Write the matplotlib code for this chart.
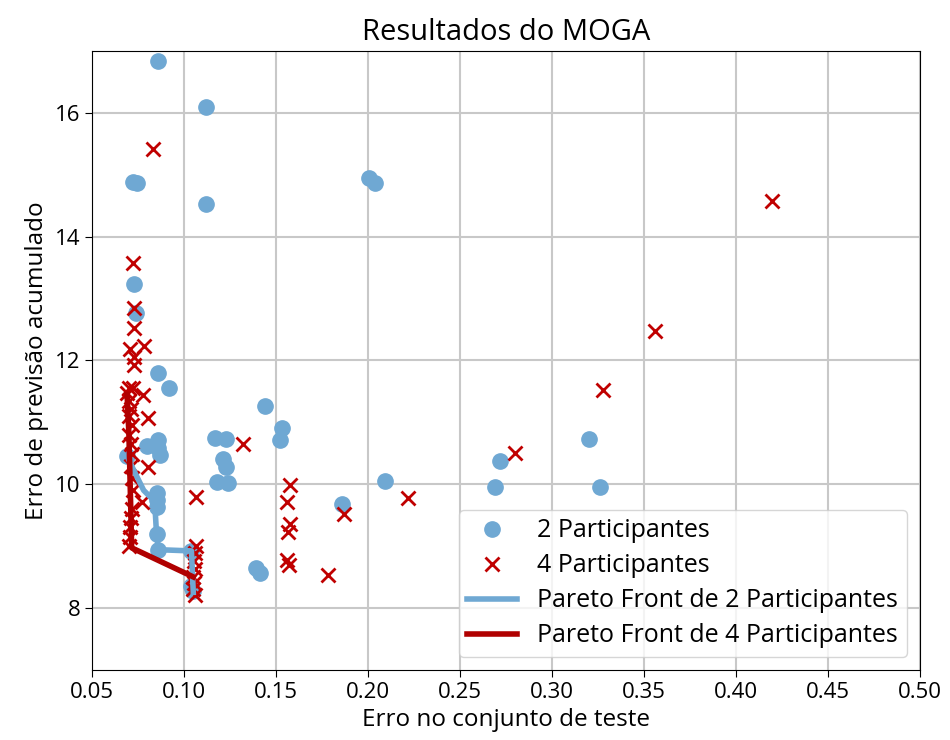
import numpy as np
import matplotlib
matplotlib.use("Agg")
import matplotlib.pyplot as plt

plt.rcParams['font.family'] = ['Open Sans', 'DejaVu Sans']

# 2 participantes (blue circles)
x_p2 = [0.086, 0.112, 0.0720, 0.0745, 0.112, 0.2005, 0.204, 0.073, 0.074,
        0.086, 0.092, 0.144, 0.153, 0.152, 0.117, 0.1226, 0.121, 0.1226,
        0.118, 0.124, 0.080, 0.086, 0.087, 0.086, 0.209, 0.186, 0.320,
        0.2717, 0.269, 0.326, 0.085, 0.085, 0.085, 0.085, 0.086, 0.139,
        0.1414, 0.104, 0.105, 0.069, 0.104]
y_p2 = [16.84, 16.10, 14.88, 14.87, 14.53, 14.95, 14.87, 13.24, 12.76,
        11.80, 11.55, 11.26, 10.90, 10.72, 10.74, 10.73, 10.40, 10.27,
        10.03, 10.01, 10.62, 10.72, 10.47, 10.58, 10.05, 9.68, 10.73,
        10.37, 9.95, 9.95, 9.86, 9.74, 9.63, 9.20, 8.94, 8.65,
        8.57, 8.35, 8.28, 10.45, 8.92]

# 4 participantes (red crosses)
x_p4 = [0.083, 0.072, 0.0726, 0.0728, 0.0704, 0.078, 0.0725, 0.072,
        0.069, 0.0774, 0.070, 0.071, 0.0806, 0.070, 0.0715, 0.070, 0.0806,
        0.0712, 0.0715, 0.077, 0.0712, 0.0718, 0.072, 0.0715, 0.0712,
        0.0706, 0.0708, 0.0702, 0.0702, 0.0725,
        0.1065, 0.1065, 0.106, 0.1055, 0.106, 0.105, 0.1055, 0.105, 0.106,
        0.132, 0.1575, 0.156, 0.1575, 0.1565, 0.156, 0.157, 0.1785, 0.187,
        0.222, 0.280, 0.328, 0.356, 0.420]
y_p4 = [15.42, 13.58, 12.84, 12.53, 12.18, 12.24, 11.93, 11.56,
        11.48, 11.44, 11.35, 11.22, 11.07, 11.10, 10.95, 10.80, 10.27,
        10.65, 10.48, 9.71, 10.30, 10.10, 9.90, 9.60, 9.45,
        9.30, 9.15, 9.00, 11.55, 12.05,
        9.79, 9.00, 8.88, 8.75, 8.62, 8.50, 8.40, 8.30, 8.20,
        10.65, 9.98, 9.71, 9.35, 9.22, 8.77, 8.69, 8.53, 9.52,
        9.77, 10.50, 11.52, 12.48, 14.58]

# pareto fronts
front2_x = [0.069, 0.073, 0.078, 0.084, 0.085, 0.086, 0.104, 0.105]
front2_y = [10.45, 10.20, 9.90, 9.72, 9.20, 8.94, 8.92, 8.25]
front4_x = [0.069, 0.070, 0.0705, 0.071, 0.0715, 0.105]
front4_y = [11.45, 10.80, 10.20, 9.60, 8.97, 8.50]

blue = '#6fa8d3'
red = '#c00000'

fig = plt.figure(figsize=(9.5, 7.4), dpi=100)
ax = fig.add_axes([0.097, 0.095, 0.871, 0.836])

ax.plot(x_p2, y_p2, 'o', color=blue, markersize=11, label='2 Participantes', zorder=3)
ax.plot(x_p4, y_p4, 'x', color=red, markersize=10, markeredgewidth=2, label='4 Participantes', zorder=4)
ax.plot(front2_x, front2_y, '-', color=blue, linewidth=4, label='Pareto Front de 2 Participantes', zorder=5)
ax.plot(front4_x, front4_y, '-', color='#b00000', linewidth=4, label='Pareto Front de 4 Participantes', zorder=6)

ax.set_xlim(0.05, 0.50)
ax.set_ylim(7, 17)
ax.set_xticks(np.arange(0.05, 0.501, 0.05))
ax.set_xticklabels(['%.2f' % v for v in np.arange(0.05, 0.501, 0.05)])
ax.set_yticks([8, 10, 12, 14, 16])
ax.tick_params(labelsize=16, length=5)
ax.grid(True, color='#c8c8c8', linewidth=1.5)
ax.set_axisbelow(True)

ax.set_title('Resultados do MOGA', fontsize=21, pad=8)
ax.set_xlabel('Erro no conjunto de teste', fontsize=17.5, labelpad=4)
ax.set_ylabel('Erro de previsão acumulado', fontsize=17.5, labelpad=4)

ax.legend(loc='lower right', fontsize=18, framealpha=0.8, handlelength=2.0,
          borderpad=0.35, labelspacing=0.4, handletextpad=0.8)

fig.savefig('out.png', dpi=100)
